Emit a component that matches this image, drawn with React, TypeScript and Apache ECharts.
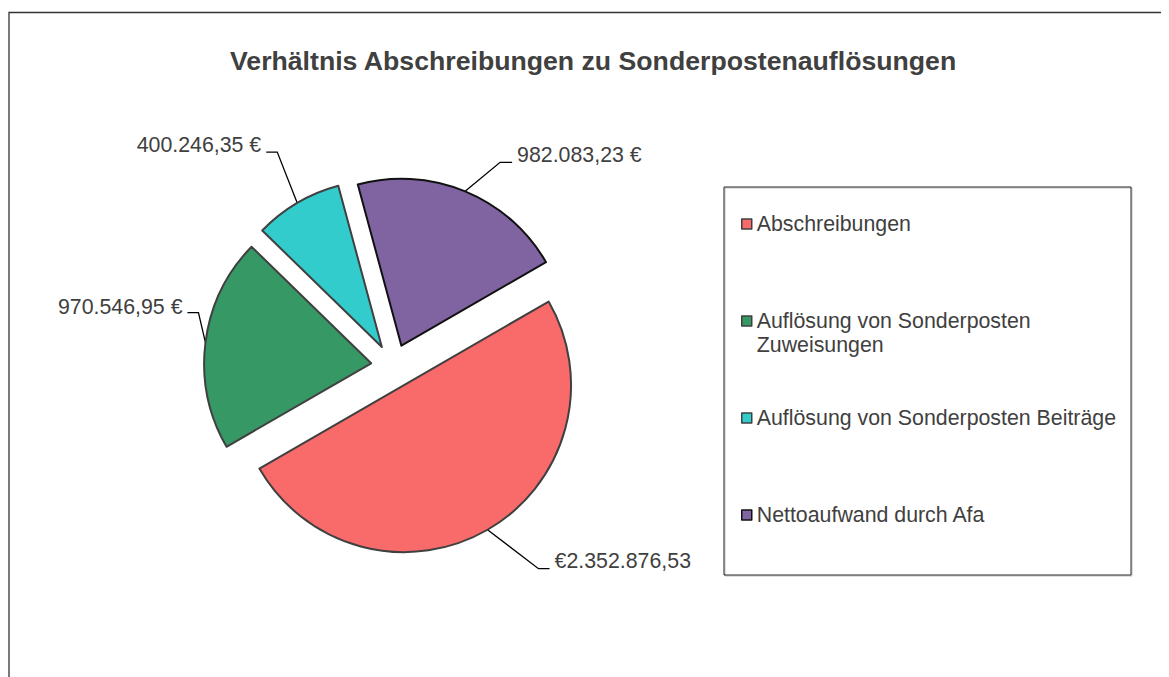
import React, { useEffect, useRef } from "react";
import * as echarts from "echarts";

const categories = [
  "Abschreibungen",
  "Auflösung von Sonderposten Zuweisungen",
  "Auflösung von Sonderposten Beiträge",
  "Nettoaufwand durch Afa",
];
const values = [2352876.53, 970546.95, 400246.35, 982083.23];
const valueLabels = ["€2.352.876,53", "970.546,95 €", "400.246,35 €", "982.083,23 €"];
const legendLabels = [
  "Abschreibungen",
  "Auflösung von Sonderposten\nZuweisungen",
  "Auflösung von Sonderposten Beiträge",
  "Nettoaufwand durch Afa",
];
const titleText = "Verhältnis Abschreibungen zu Sonderpostenauflösungen";

const colors = ["#F96A6A", "#359865", "#33CCCC", "#8064A2"];
const borderColors = ["#404040", "#404040", "#404040", "#111111"];
// default radial length / horizontal length of the label lines
const labelLineLengths = [
  [44.2, 40],
  [8, 10],
  [59.2, 1],
  [31.4, 35],
];
// leader line shape relative to its anchor on the arc: [bendDx, bendDy, endDx]
const leaderShapes = [
  [51, 39, 62],
  [-7, -30, -18],
  [-20, -51, -31],
  [35, -29, 47],
];
// bottom padding of each label (lifts the text above its leader line)
const labelPadBottom = [14, 70, 14, 14];

const FONT = "'Liberation Sans', Arial, Helvetica, sans-serif";
const TEXT = "#404040";

export default function App() {
  const ref = useRef<HTMLDivElement>(null);
  useEffect(() => {
    const prevOverflow = document.documentElement.style.overflow;
    document.documentElement.style.overflow = "hidden";
    const chart = echarts.init(ref.current!, null, { renderer: "svg" });
    const option: any = {
      animation: false,
      title: {
        text: titleText,
        left: 217,
        top: 34,
        textStyle: { fontFamily: FONT, fontSize: 26.67, fontWeight: "bold", color: TEXT },
      },
      graphic: [
        {
          type: "polyline",
          shape: { points: [[1, 669], [1, 4.5], [1161, 4.5]] },
          style: { stroke: "#333", lineWidth: 1.3, fill: null },
          silent: true,
        },
      ],
      legend: {
        orient: "vertical",
        left: 716,
        top: 179,
        padding: [1, 15, 24, 17],
        itemGap: 25,
        itemWidth: 10,
        itemHeight: 10,
        icon: "rect",
        selectedMode: false,
        borderColor: "#262626",
        borderWidth: 1,
        shadowColor: "rgba(0,0,0,0.25)",
        shadowOffsetX: 1,
        shadowOffsetY: 1,
        shadowBlur: 1,
        itemStyle: { borderWidth: 1.5 },
        formatter: (name: string) => {
          const lbl = legendLabels[categories.indexOf(name)];
          return lbl
            .split("\n")
            .map((l) => `{t|${l}}`)
            .join("\n");
        },
        textStyle: {
          padding: [24, 0, 24, 0],
          backgroundColor: "rgba(255,255,255,0)",
          rich: { t: { fontFamily: FONT, fontSize: 21.33, lineHeight: 24, color: TEXT } },
        },
        data: categories.map((name, i) =>
          i === 1 ? { name, textStyle: { padding: [24, 0, 0, 0] } } : { name }
        ),
      },
      series: [
        {
          type: "pie",
          center: [385, 358],
          radius: 167,
          startAngle: 30,
          clockwise: true,
          selectedMode: "multiple",
          selectedOffset: 22,
          avoidLabelOverlap: false,
          emphasis: { disabled: true },
          label: {
            show: true,
            position: "outside",
            formatter: (p: any) => `{v|${valueLabels[p.dataIndex]}}`,
            rich: { v: { fontFamily: FONT, fontSize: 21.33, lineHeight: 24, color: TEXT } },
          },
          labelLine: { show: true, lineStyle: { color: "#000", width: 1.3 } },
          labelLayout: (p: any) => {
            const pts = p.labelLinePoints;
            const s = leaderShapes[p.dataIndex];
            if (!pts || !pts.length) return {};
            const p0 = pts[0];
            return {
              labelLinePoints: [
                [p0[0], p0[1]],
                [p0[0] + s[0], p0[1] + s[1]],
                [p0[0] + s[2], p0[1] + s[1]],
              ],
            };
          },
          data: categories.map((name, i) => ({
            name,
            value: values[i],
            selected: true,
            itemStyle: { color: colors[i], borderColor: borderColors[i], borderWidth: 2 },
            select: { itemStyle: { color: colors[i], borderColor: borderColors[i], borderWidth: 2 } },
            label: { padding: [0, 0, labelPadBottom[i], 0] },
            labelLine: { length: labelLineLengths[i][0], length2: labelLineLengths[i][1] },
          })),
        },
      ],
    };
    chart.setOption(option);
    return () => {
      chart.dispose();
      document.documentElement.style.overflow = prevOverflow;
    };
  }, []);
  return <div ref={ref} style={{ width: 1161, height: 669 }} />;
}
